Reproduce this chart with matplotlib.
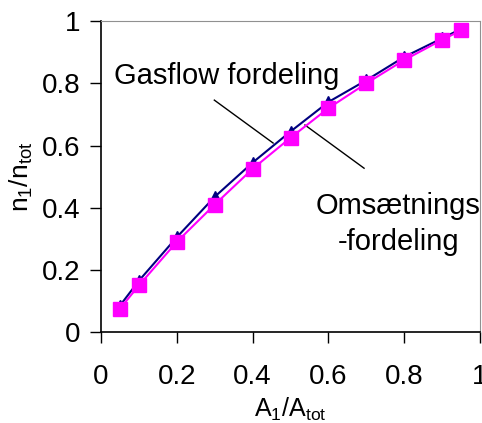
import matplotlib
matplotlib.use("Agg")
import matplotlib.pyplot as plt

# data
x = [0.05, 0.1, 0.2, 0.3, 0.4, 0.5, 0.6, 0.7, 0.8, 0.9, 0.95]
gasflow = [0.085, 0.165, 0.305, 0.435, 0.545, 0.645, 0.74, 0.81, 0.885, 0.945, 0.975]
omsaetning = [0.075, 0.15, 0.29, 0.41, 0.525, 0.625, 0.72, 0.80, 0.875, 0.94, 0.97]

xticks = [0, 0.2, 0.4, 0.6, 0.8, 1]
xticklabels = ["0", "0.2", "0.4", "0.6", "0.8", "1"]
yticks = [0, 0.2, 0.4, 0.6, 0.8, 1]
yticklabels = ["0", "0.2", "0.4", "0.6", "0.8", "1"]

plt.rcParams["font.family"] = ["Liberation Sans", "DejaVu Sans"]
plt.rcParams["mathtext.fontset"] = "custom"
plt.rcParams["mathtext.rm"] = "Liberation Sans"

fig = plt.figure(figsize=(4.82, 4.23), dpi=100)
ax = fig.add_axes([0.2095, 0.215, 0.7865, 0.735])

ax.plot(x, gasflow, color="#000080", lw=1.5, marker="^", ms=8,
        markerfacecolor="#000080", markeredgecolor="#000080", zorder=3)
ax.plot(x, omsaetning, color="#ff00ff", lw=1.5, marker="s", ms=9.5,
        markerfacecolor="#ff00ff", markeredgecolor="#ff00ff", zorder=4)

ax.set_xlim(0, 1)
ax.set_ylim(0, 1)
ax.set_xticks(xticks)
ax.set_xticklabels(xticklabels)
ax.set_yticks(yticks)
ax.set_yticklabels(yticklabels)
ax.tick_params(axis="x", direction="out", length=8, width=1, pad=15, labelsize=20)
ax.tick_params(axis="y", direction="out", length=8, width=1, pad=7, labelsize=20)

for s in ("top", "right"):
    ax.spines[s].set_color("#909090")
for s in ("left", "bottom"):
    ax.spines[s].set_color("black")
    ax.spines[s].set_linewidth(1.2)

ax.set_xlabel("A$_1$/A$_{\\rm tot}$", fontsize=18, labelpad=4)
ax.set_ylabel("n$_1$/n$_{\\rm tot}$", fontsize=19, labelpad=5)

# annotations
ax.text(0.035, 0.825, "Gasflow fordeling", fontsize=21, ha="left", va="center")
ax.plot([0.299, 0.454], [0.746, 0.608], color="black", lw=1)
ax.text(1.0, 0.405, "Omsætnings", fontsize=21, ha="right", va="center")
ax.text(0.945, 0.29, "-fordeling", fontsize=21, ha="right", va="center")
ax.plot([0.538, 0.694], [0.666, 0.527], color="black", lw=1)

fig.savefig("out.png", dpi=100)
